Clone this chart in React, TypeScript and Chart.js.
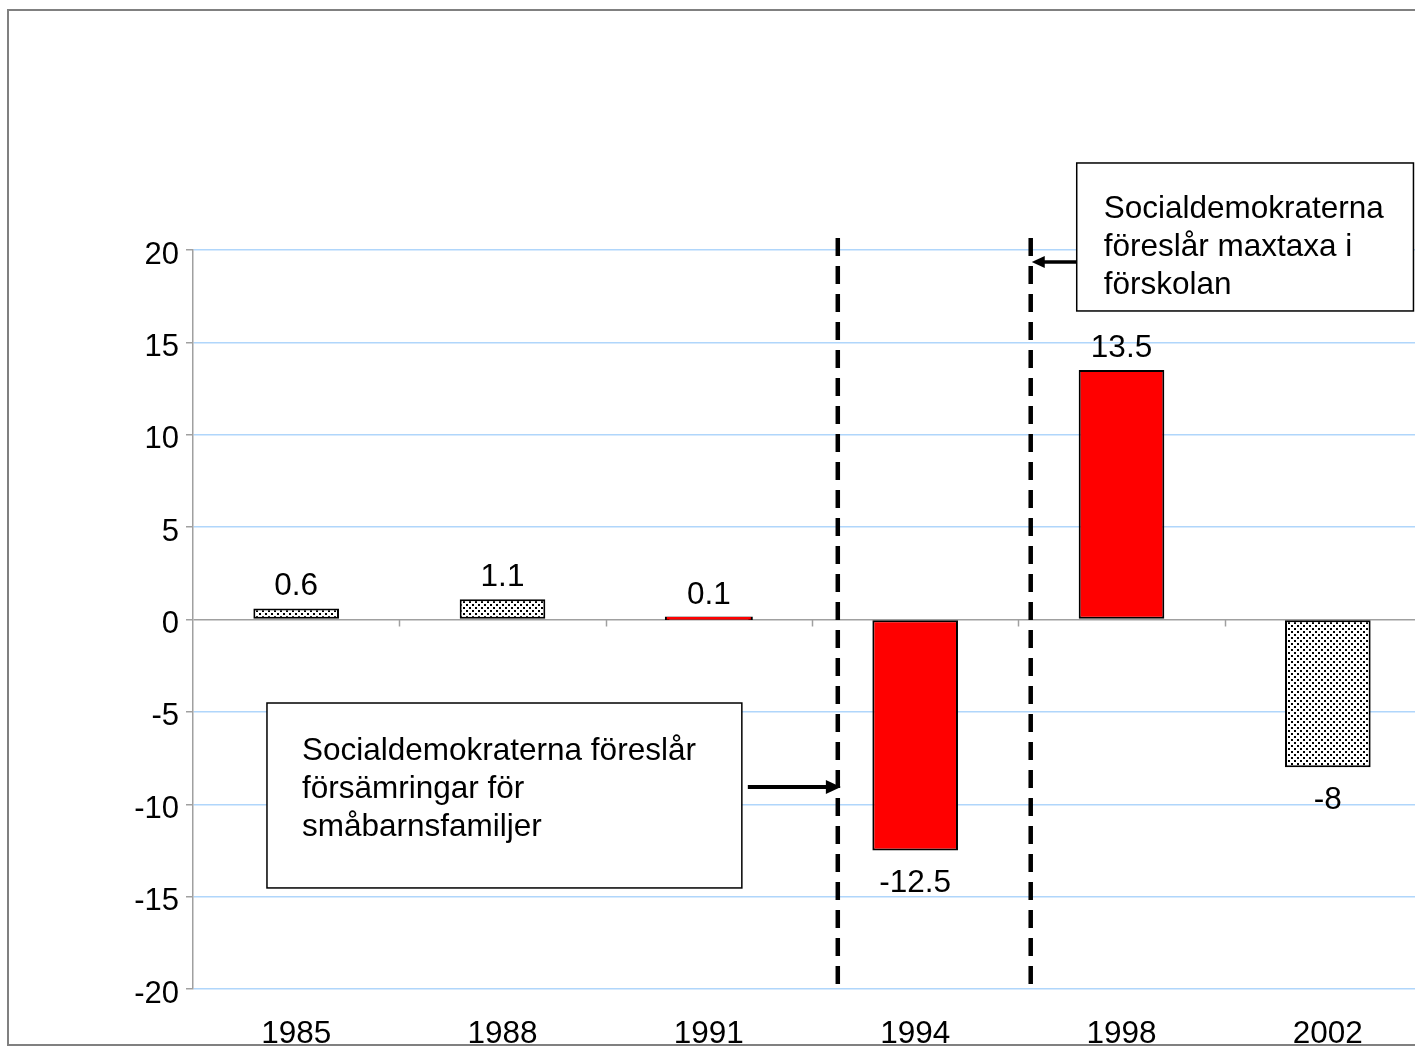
import React, { useEffect, useRef } from "react";
import { Chart, registerables } from "chart.js";

Chart.register(...registerables);

const categories = ["1985", "1988", "1991", "1994", "1998", "2002"];
const values = [0.6, 1.1, 0.1, -12.5, 13.5, -8];
const barStyles = ["dots", "dots", "red", "red", "red", "dots"];
const yTicks = [-20, -15, -10, -5, 0, 5, 10, 15, 20];
const leftBoxText = ["Socialdemokraterna föreslår", "försämringar för", "småbarnsfamiljer"];
const rightBoxText = ["Socialdemokraterna", "föreslår maxtaxa i", "förskolan"];

const FONT = "'Liberation Sans', Arial, sans-serif";

function makeDots(): CanvasPattern | string {
  const c = document.createElement("canvas");
  c.width = 6;
  c.height = 6;
  const g = c.getContext("2d");
  if (!g) return "#fff";
  g.fillStyle = "#fff";
  g.fillRect(0, 0, 6, 6);
  g.fillStyle = "#000";
  g.fillRect(1, 1, 2, 2);
  g.fillRect(4, 4, 2, 2);
  const p = g.createPattern(c, "repeat");
  return p || "#fff";
}

export default function App() {
  const ref = useRef<HTMLCanvasElement>(null);
  useEffect(() => {
    if (!ref.current) return;
    const dots = makeDots();
    const colors = barStyles.map((s) => (s === "red" ? "#ff0000" : dots));

    const overlay = {
      id: "overlay",
      afterDatasetsDraw(chart: any) {
        const ctx = chart.ctx as CanvasRenderingContext2D;
        const xs = chart.scales.x;
        const ys = chart.scales.y;
        const cw = xs.getPixelForValue(1) - xs.getPixelForValue(0);
        const px = (v: number) => xs.getPixelForValue(0) + v * cw;
        const py = (v: number) => ys.getPixelForValue(v);
        const zero = py(0);
        ctx.save();
        // x tick marks at zero line
        ctx.strokeStyle = "#a0a0a0";
        ctx.lineWidth = 1.5;
        for (let i = 1; i < categories.length; i++) {
          const bx = Math.round(px(i - 0.5)) + 0.5;
          ctx.beginPath();
          ctx.moveTo(bx, zero);
          ctx.lineTo(bx, zero + 7);
          ctx.stroke();
        }
        // data labels
        ctx.fillStyle = "#000";
        ctx.font = `31.5px ${FONT}`;
        ctx.textAlign = "center";
        ctx.textBaseline = "middle";
        const meta = chart.getDatasetMeta(0);
        meta.data.forEach((el: any, i: number) => {
          const v = values[i];
          const y = v >= 0 ? el.y - 22 : el.y + 33;
          ctx.fillText(String(v), el.x, y);
        });
        // dashed lines
        ctx.strokeStyle = "#000";
        ctx.lineWidth = 4.5;
        ctx.setLineDash([18, 10]);
        [2.625, 3.56].forEach((xv) => {
          ctx.beginPath();
          ctx.moveTo(px(xv), py(20.65));
          ctx.lineTo(px(xv), py(-19.8));
          ctx.stroke();
        });
        ctx.setLineDash([]);
        // boxes
        const box = (x0: number, x1: number, y0: number, y1: number, lines: string[], padL: number, firstY: number) => {
          const l = px(x0), r = px(x1), t = py(y0), b = py(y1);
          ctx.fillStyle = "#fff";
          ctx.fillRect(l, t, r - l, b - t);
          ctx.strokeStyle = "#000";
          ctx.lineWidth = 1.5;
          ctx.strokeRect(l, t, r - l, b - t);
          ctx.fillStyle = "#000";
          ctx.font = `31.5px ${FONT}`;
          ctx.textAlign = "left";
          ctx.textBaseline = "middle";
          lines.forEach((s, i) => ctx.fillText(s, l + padL, t + firstY + i * 38));
        };
        box(-0.1415, 2.16, -4.52, -14.53, leftBoxText, 35, 48);
        box(3.783, 5.415, 24.71, 16.7, rightBoxText, 27, 46);
        // arrows
        const arrow = (x0: number, x1: number, yv: number, w: number, hl: number, hw: number) => {
          const a = px(x0), bT = px(x1), y = py(yv);
          const dir = Math.sign(bT - a);
          ctx.strokeStyle = "#000";
          ctx.lineWidth = w;
          ctx.beginPath();
          ctx.moveTo(a, y);
          ctx.lineTo(bT - dir * hl * 0.8, y);
          ctx.stroke();
          ctx.fillStyle = "#000";
          ctx.beginPath();
          ctx.moveTo(bT, y);
          ctx.lineTo(bT - dir * hl, y - hw);
          ctx.lineTo(bT - dir * hl, y + hw);
          ctx.closePath();
          ctx.fill();
        };
        arrow(2.189, 2.64, -9.07, 4, 15, 7);
        arrow(3.783, 3.565, 19.35, 3.5, 13, 6);
        // outer frame
        ctx.strokeStyle = "#808080";
        ctx.lineWidth = 2;
        ctx.strokeRect(8, 10, 1600, 1035);
        ctx.restore();
      },
    };

    const chart = new Chart(ref.current, {
      type: "bar",
      data: {
        labels: categories,
        datasets: [
          {
            data: values,
            backgroundColor: colors as any,
            borderColor: "#000",
            borderWidth: 2,
            borderSkipped: false,
            inflateAmount: ((c: any) => (Math.abs(values[c.dataIndex]) < 0.5 ? 1.2 : "auto")) as any,
            barPercentage: 0.415,
            categoryPercentage: 1,
          },
        ],
      },
      options: {
        responsive: false,
        animation: false,
        layout: { padding: { top: 250, right: 9, left: 0, bottom: 0 } },
        plugins: { legend: { display: false }, tooltip: { enabled: false }, title: { display: false } },
        scales: {
          x: {
            grid: { display: false, drawTicks: false },
            border: { display: false },
            ticks: { color: "#000", font: { family: FONT, size: 31.5 }, padding: 26, maxRotation: 0 },
            afterFit: (s: any) => {
              s.height = 58;
            },
          },
          y: {
            min: -20,
            max: 20,
            afterBuildTicks: (s: any) => {
              s.ticks = yTicks.map((v) => ({ value: v }));
            },
            grid: {
              color: (c: any) => (c.tick && c.tick.value === 0 ? "#a0a0a0" : "#b0d6fb"),
              tickColor: "#a0a0a0",
              tickLength: 7,
              lineWidth: 1.5,
            },
            border: { display: true, color: "#a0a0a0", width: 1.5 },
            ticks: { color: "#000", font: { family: FONT, size: 31 }, padding: 7, labelOffset: 5 },
            afterFit: (s: any) => {
              s.width = 193;
            },
          },
        },
      },
      plugins: [overlay],
    });
    return () => chart.destroy();
  }, []);

  return (
    <div style={{ position: "fixed", left: 0, top: 0, width: 1415, height: 1047, overflow: "hidden", background: "#fff" }}>
      <canvas ref={ref} width={1440} height={1047} style={{ width: 1440, height: 1047, display: "block" }} />
    </div>
  );
}
